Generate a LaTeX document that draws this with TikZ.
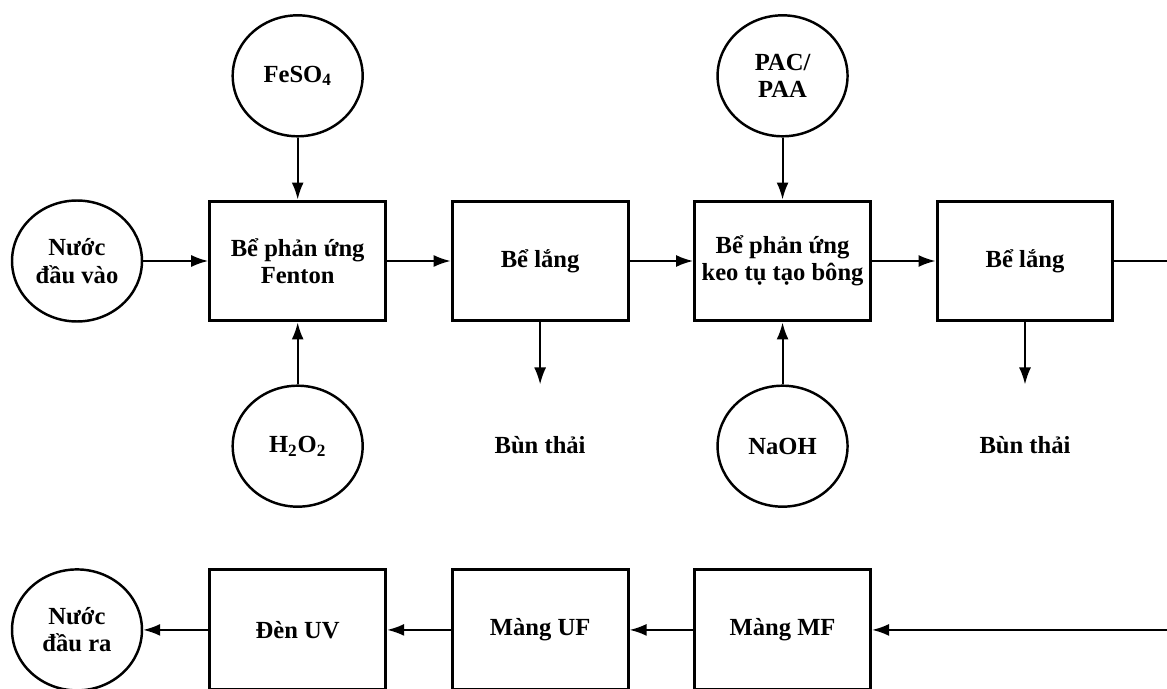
\documentclass[tikz,border=0pt]{standalone}
\usepackage{fontspec}
\setmainfont{Liberation Serif}
\usetikzlibrary{shapes.geometric,arrows.meta,positioning}

\begin{document}
\begin{tikzpicture}[
    x=0.02cm, y=-0.02cm,
    node distance=1.27cm,
    every node/.style={font=\bfseries\fontsize{14}{15.5}\selectfont, align=center},
    tank/.style={rectangle, draw, line width=1.7pt, minimum width=3.52cm,
        minimum height=2.4cm, inner sep=2pt},
    chem/.style={ellipse, draw, line width=1.4pt, minimum width=2.6cm,
        minimum height=2.42cm, inner sep=0pt},
    sludge/.style={minimum width=2.6cm, minimum height=2.42cm, inner sep=0pt},
    arrow/.style={-{Latex[length=3.4mm,width=2.4mm]}, line width=1.1pt}
]
    \useasboundingbox (0,0) rectangle (1167,689);

    % Top row
    \node[chem] (feed) at (77,261) {Nước\\đầu vào};
    \node[tank, right=1.3cm of feed] (fenton) {Bể phản ứng\\Fenton};
    \node[tank, right=of fenton] (settle1) {Bể lắng};
    \node[tank, right=of settle1] (floc) {Bể phản ứng\\keo tụ tạo bông};
    \node[tank, right=of floc] (settle2) {Bể lắng};

    % Chemicals and sludge
    \node[chem, above=1.24cm of fenton] (feso4) {FeSO\textsubscript{4}};
    \node[chem, below=1.24cm of fenton] (h2o2) {H\textsubscript{2}O\textsubscript{2}};
    \node[sludge, below=1.24cm of settle1] (sludge1) {Bùn thải};
    \node[chem, above=1.24cm of floc] (pac) {PAC/\\PAA};
    \node[chem, below=1.24cm of floc] (naoh) {NaOH};
    \node[sludge, below=1.24cm of settle2] (sludge2) {Bùn thải};

    % Bottom row
    \node[tank, below=4.92cm of floc] (mf) {Màng MF};
    \node[tank, left=of mf] (uf) {Màng UF};
    \node[tank, left=of uf] (uv) {Đèn UV};
    \node[chem, left=1.3cm of uv] (out) {Nước\\đầu ra};
    \coordinate[right=1.5cm of settle2] (ret);

    % Arrows
    \draw[arrow] (feed) -- (fenton);
    \draw[arrow] (fenton) -- (settle1);
    \draw[arrow] (settle1) -- (floc);
    \draw[arrow] (floc) -- (settle2);
    \draw[arrow] (feso4) -- (fenton);
    \draw[arrow] (h2o2) -- (fenton);
    \draw[arrow] (settle1) -- (sludge1);
    \draw[arrow] (pac) -- (floc);
    \draw[arrow] (naoh) -- (floc);
    \draw[arrow] (settle2) -- (sludge2);
    \draw[arrow] (settle2) -- (ret) |- (mf);
    \draw[arrow] (mf) -- (uf);
    \draw[arrow] (uf) -- (uv);
    \draw[arrow] (uv) -- (out);
\end{tikzpicture}
\end{document}
